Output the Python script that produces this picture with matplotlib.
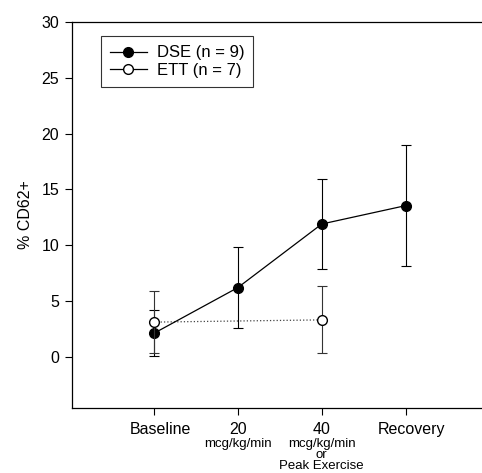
import matplotlib
matplotlib.use("Agg")
import matplotlib.pyplot as plt
import matplotlib.transforms as mtransforms
from matplotlib.lines import Line2D

plt.rcParams['font.family'] = ['Liberation Sans', 'DejaVu Sans']

categories = ["Baseline", "20", "40", "Recovery"]
sub_labels = [[], ["mcg/kg/min"], ["mcg/kg/min", "or", "Peak Exercise"], []]

dse_x = [1, 2, 3, 4]
dse_y = [2.1, 6.2, 11.9, 13.55]
dse_err = [2.05, 3.6, 4.0, 5.4]

ett_x = [1, 3]
ett_y = [3.1, 3.3]
ett_err = [2.8, 3.0]

yticks = [0, 5, 10, 15, 20, 25, 30]

fig = plt.figure(figsize=(4.82, 4.73), dpi=100)
ax = fig.add_axes([0.149, 0.138, 0.851, 0.815])

ax.errorbar(dse_x, dse_y, yerr=dse_err, fmt='-o', color='black', mfc='black',
            mec='black', ms=7, lw=0.9, elinewidth=0.8, capsize=3.5, capthick=0.8,
            zorder=3)
ax.errorbar(ett_x, ett_y, yerr=ett_err, fmt='o', mfc='white',
            mec='black', ms=7, lw=0.9, elinewidth=0.8, capsize=3.5, capthick=0.8,
            ecolor='#333333', zorder=4)
ax.plot(ett_x, ett_y, ':', color='#444444', lw=0.9, zorder=2)

ax.set_xlim(0.02, 4.91)
ax.set_ylim(-4.58, 30)
ax.set_yticks(yticks)
ax.set_xticks(dse_x)
ax.set_xticklabels(categories)
ax.tick_params(axis='both', direction='out', length=5, width=0.8, labelsize=11.5)
ax.tick_params(axis='x', pad=5)
ax.tick_params(axis='y', pad=4)
for s in ['left', 'bottom', 'top']:
    ax.spines[s].set_linewidth(0.9)
ax.spines['right'].set_visible(False)

# the reference has the outer word labels sitting slightly right of their ticks
for lbl in ax.get_xticklabels():
    if lbl.get_text() in ("Baseline", "Recovery"):
        lbl.set_transform(lbl.get_transform() +
                          mtransforms.ScaledTranslation(0.06, 0, fig.dpi_scale_trans))

ax.set_ylabel('% CD62+', fontsize=11.5, labelpad=6)

trans = mtransforms.blended_transform_factory(ax.transData, fig.transFigure)
line_y_px = [444, 455, 466]
for x, lines in zip(dse_x, sub_labels):
    for line, ypx in zip(lines, line_y_px):
        ax.text(x, 1 - ypx / 473, line, transform=trans, ha='center',
                va='center', fontsize=9.5)

handles = [
    Line2D([], [], color='black', marker='o', mfc='black', mec='black', ms=7, lw=0.9),
    Line2D([], [], color='black', marker='o', mfc='white', mec='black', ms=7, lw=0.9),
]
labels = ['DSE (n = 9)', 'ETT (n = 7)']
leg = ax.legend(handles, labels, loc='upper left',
                bbox_to_anchor=(0.0707, 0.9637), borderaxespad=0,
                frameon=True, fancybox=False,
                edgecolor='black', fontsize=12, handlelength=2.2,
                handletextpad=0.6, borderpad=0.55, labelspacing=0.15)
leg.get_frame().set_linewidth(0.8)

fig.savefig('out.png', dpi=100)
